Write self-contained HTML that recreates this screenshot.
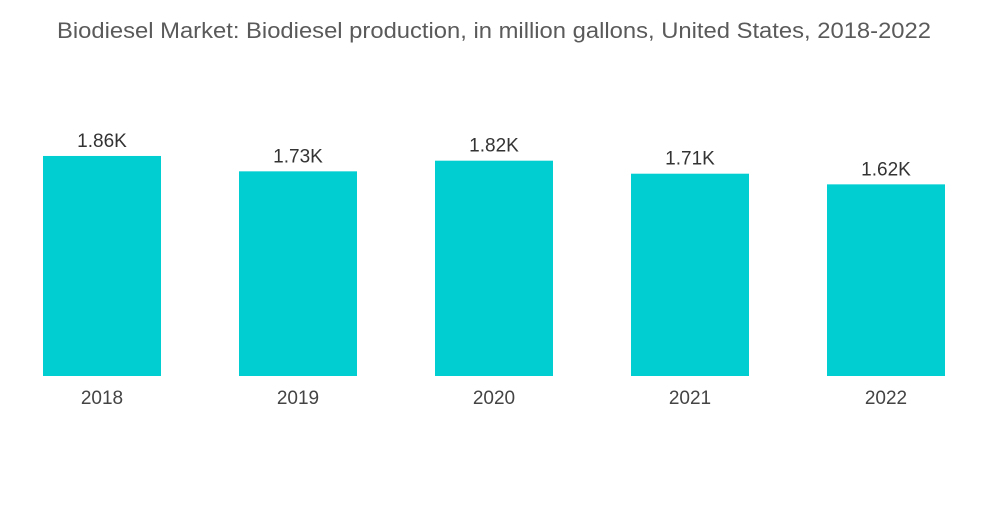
<!DOCTYPE html>
<html>
<head>
<meta charset="utf-8">
<style>
  html,body{margin:0;padding:0;background:#fff;}
  body{width:1000px;height:504px;overflow:hidden;font-family:"Liberation Sans",sans-serif;}
</style>
</head>
<body>
<svg id="chart" width="1000" height="504" xmlns="http://www.w3.org/2000/svg">
  <text x="57" y="38" textLength="874" lengthAdjust="spacingAndGlyphs" font-family="Liberation Sans, sans-serif" font-size="22" fill="#5a5a5a">Biodiesel Market: Biodiesel production, in million gallons, United States, 2018-2022</text>
  <g id="bars"></g>
</svg>
<script>
const categories = ["2018","2019","2020","2021","2022"];
const values = [1.86, 1.73, 1.82, 1.71, 1.62];
const valueLabels = ["1.86K","1.73K","1.82K","1.71K","1.62K"];

const baseline = 376, pxPerUnit = 118.3;
const x0 = 43, step = 196, barW = 118;
function yScale(v){ return baseline - v * pxPerUnit; }
function xScale(i){ return x0 + i * step; }

const ns = "http://www.w3.org/2000/svg";
const g = document.getElementById("bars");
categories.forEach((c, i) => {
  const x = xScale(i), y = yScale(values[i]);
  const r = document.createElementNS(ns, "rect");
  
  
  r.setAttribute("x", x); r.setAttribute("y", y);
  r.setAttribute("width", barW); r.setAttribute("height", baseline - y);
  r.setAttribute("fill", "#00ced1");
  g.appendChild(r);

  const t = document.createElementNS(ns, "text");
  
  
  t.setAttribute("x", x + barW / 2); t.setAttribute("y", y - 9);
  t.setAttribute("text-anchor", "middle");
  t.setAttribute("font-size", "19"); t.setAttribute("fill", "#333");
  t.textContent = valueLabels[i];
  g.appendChild(t);

  const l = document.createElementNS(ns, "text");
  
  
  l.setAttribute("x", x + barW / 2); l.setAttribute("y", 404);
  l.setAttribute("text-anchor", "middle");
  l.setAttribute("font-size", "19"); l.setAttribute("fill", "#444");
  l.textContent = c;
  g.appendChild(l);
});
</script>
</body>
</html>
